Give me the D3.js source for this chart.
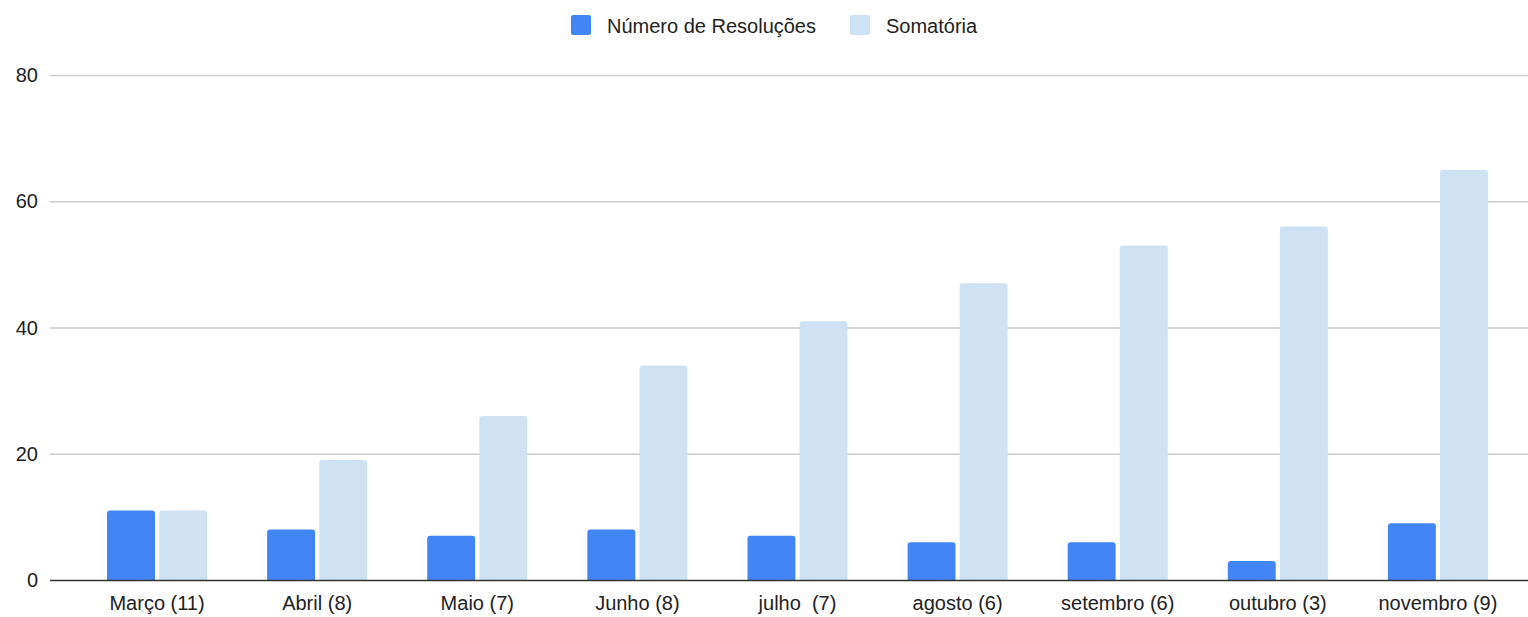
<!DOCTYPE html>
<html>
<head>
<meta charset="utf-8">
<script src="https://cdn.jsdelivr.net/npm/d3@7"></script>
<style>
  body { margin: 0; background: #fff; }
  text { font-family: "Liberation Sans", Arial, sans-serif; fill: #222; }
</style>
</head>
<body>
<div id="chart"></div>
<script>
var categorias = ['Março (11)', 'Abril (8)', 'Maio (7)', 'Junho (8)', 'julho  (7)', 'agosto (6)', 'setembro (6)', 'outubro (3)', 'novembro (9)'];
var series = ['Número de Resoluções', 'Somatória'];
var resolucoes = [11, 8, 7, 8, 7, 6, 6, 3, 9];
var somatoria = [11, 19, 26, 34, 41, 47, 53, 56, 65];
var yTicks = [0, 20, 40, 60, 80];
var cores = ['#4285f4', '#cfe2f3'];

var width = 1528, height = 617;

var svg = d3.select('#chart')
    .append('svg')
    .attr('width', width)
    .attr('height', height);

var x0 = d3.scaleBand()
    .domain(categorias)
    .range([77, 1518])
    .paddingInner(0.375)
    .paddingOuter(0.1875);

var x1 = d3.scaleBand()
    .domain(series)
    .range([0, x0.bandwidth()])
    .paddingInner(0.08);

var y = d3.scaleLinear()
    .domain([0, 80])
    .range([580, 75]);

// linhas de grade
svg.append('g')
    .selectAll('line')
    .data(yTicks.filter(d => d > 0))
    .enter()
    .append('line')
    .attr('x1', 50)
    .attr('x2', width)
    .attr('y1', d => y(d) + 0.5)
    .attr('y2', d => y(d) + 0.5)
    .attr('stroke', '#cccccc')
    .attr('stroke-width', 1.5);

// rotulos do eixo y
svg.append('g')
    .selectAll('text')
    .data(yTicks)
    .enter()
    .append('text')
    .attr('x', 38)
    .attr('y', d => y(d))
    .attr('dy', '0.35em')
    .attr('text-anchor', 'end')
    .attr('font-size', 20)
    .text(d => d);

var dados = categorias.map((c, i) => ({cat: c, valores: [resolucoes[i], somatoria[i]]}));

// barra com cantos de cima arredondados
function barra(x, w, y0, y1, r) {
    var h = y0 - y1;
    r = Math.min(r, h, w / 2);
    return 'M' + x + ',' + y0 +
        'V' + (y1 + r) +
        'Q' + x + ',' + y1 + ' ' + (x + r) + ',' + y1 +
        'H' + (x + w - r) +
        'Q' + (x + w) + ',' + y1 + ' ' + (x + w) + ',' + (y1 + r) +
        'V' + y0 + 'Z';
}

var grupos = svg.append('g')
    .selectAll('g')
    .data(dados)
    .enter()
    .append('g')
    .attr('transform', d => 'translate(' + x0(d.cat) + ',0)');

grupos.selectAll('path')
    .data(d => d.valores.map((v, i) => ({serie: series[i], valor: v, cor: cores[i]})))
    .enter()
    .append('path')
    .attr('d', d => barra(x1(d.serie), x1.bandwidth(), y(0), y(d.valor), 3))
    .attr('fill', d => d.cor);

// linha do zero
svg.append('line')
    .attr('x1', 50)
    .attr('x2', width)
    .attr('y1', y(0) + 0.5)
    .attr('y2', y(0) + 0.5)
    .attr('stroke', '#333333')
    .attr('stroke-width', 1.5);

// rotulos do eixo x
svg.append('g')
    .selectAll('text')
    .data(categorias)
    .enter()
    .append('text')
    .attr('x', d => x0(d) + x0.bandwidth() / 2)
    .attr('y', 610)
    .attr('text-anchor', 'middle')
    .attr('font-size', 20)
    .attr('xml:space', 'preserve')
    .style('white-space', 'pre')
    .text(d => d);

// legenda
var legX = [571, 850];
var legenda = svg.append('g')
    .selectAll('g')
    .data(series)
    .enter()
    .append('g')
    .attr('transform', (d, i) => 'translate(' + legX[i] + ',15)');

legenda.append('rect')
    .attr('width', 20)
    .attr('height', 20)
    .attr('rx', 2)
    .attr('fill', (d, i) => cores[i]);

legenda.append('text')
    .attr('x', 36)
    .attr('y', 11)
    .attr('dy', '0.35em')
    .attr('font-size', 20)
    .text(d => d);
</script>
</body>
</html>
